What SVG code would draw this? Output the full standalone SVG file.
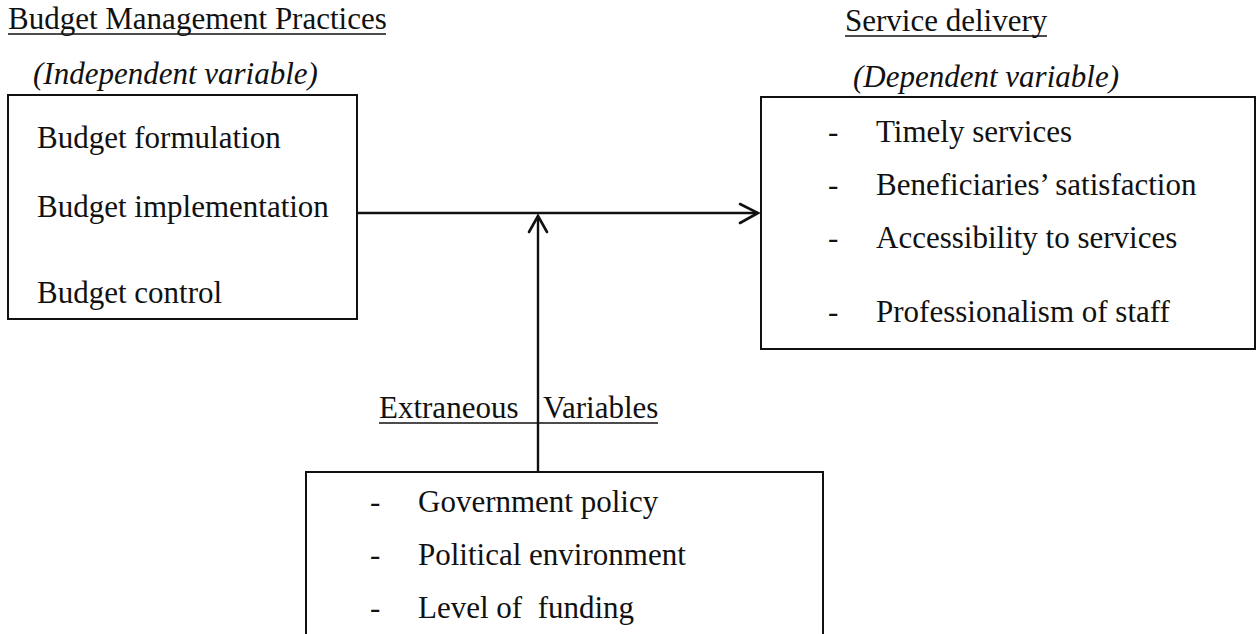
<svg xmlns="http://www.w3.org/2000/svg" width="1257" height="634" viewBox="0 0 1257 634">
  <style>
    text { font-family: "Liberation Serif", "Times New Roman", serif; font-size: 31px; fill: #111; }
    .it { font-style: italic; }
    .pre { white-space: pre; }
    .box { fill: none; stroke: #111; stroke-width: 2; }
    .ul { stroke: #111; stroke-width: 1.6; }
    .conn { fill: none; stroke: #111; stroke-width: 2.4; }
    .head { fill: none; stroke: #111; stroke-width: 2.6; stroke-linecap: round; stroke-linejoin: miter; }
  </style>
  <rect width="1257" height="634" fill="#fff"/>

  <!-- Independent variable -->
  <g id="independent">
    <text x="8" y="29">Budget Management Practices</text>
    <line class="ul" x1="8" y1="34" x2="386" y2="34"/>
    <text class="it" x="33" y="84">(Independent variable)</text>
    <rect class="box" x="8" y="95" width="349" height="224"/>
    <text x="37" y="148">Budget formulation</text>
    <text x="37" y="217">Budget implementation</text>
    <text x="37" y="303">Budget control</text>
  </g>

  <!-- Dependent variable -->
  <g id="dependent">
    <text x="845" y="31">Service delivery</text>
    <line class="ul" x1="845" y1="36" x2="1047" y2="36"/>
    <text class="it" x="853" y="87">(Dependent variable)</text>
    <rect class="box" x="761" y="97" width="494" height="252"/>
    <text x="828" y="142">-</text>
    <text x="876" y="142">Timely services</text>
    <text x="828" y="195">-</text>
    <text x="876" y="195">Beneficiaries’ satisfaction</text>
    <text x="828" y="248">-</text>
    <text x="876" y="248">Accessibility to services</text>
    <text x="828" y="322">-</text>
    <text x="876" y="322">Professionalism of staff</text>
  </g>

  <!-- Extraneous variables -->
  <g id="extraneous">
    <text x="379" y="418">Extraneous</text>
    <text x="543" y="418">Variables</text>
    <line class="ul" x1="379" y1="423" x2="658" y2="423"/>
    <rect class="box" x="306" y="472" width="517" height="170"/>
    <text x="370" y="512">-</text>
    <text x="418" y="512">Government policy</text>
    <text x="370" y="565">-</text>
    <text x="418" y="565">Political environment</text>
    <text x="370" y="618">-</text>
    <text class="pre" x="418" y="618">Level of  funding</text>
  </g>

  <!-- Connectors -->
  <g id="connectors">
    <line class="conn" x1="357" y1="213" x2="757" y2="213"/>
    <polyline class="head" points="740,204 758,213 740,223"/>
    <line class="conn" x1="538" y1="472" x2="538" y2="216"/>
    <polyline class="head" points="529,232 538,216 547,232"/>
  </g>
</svg>
